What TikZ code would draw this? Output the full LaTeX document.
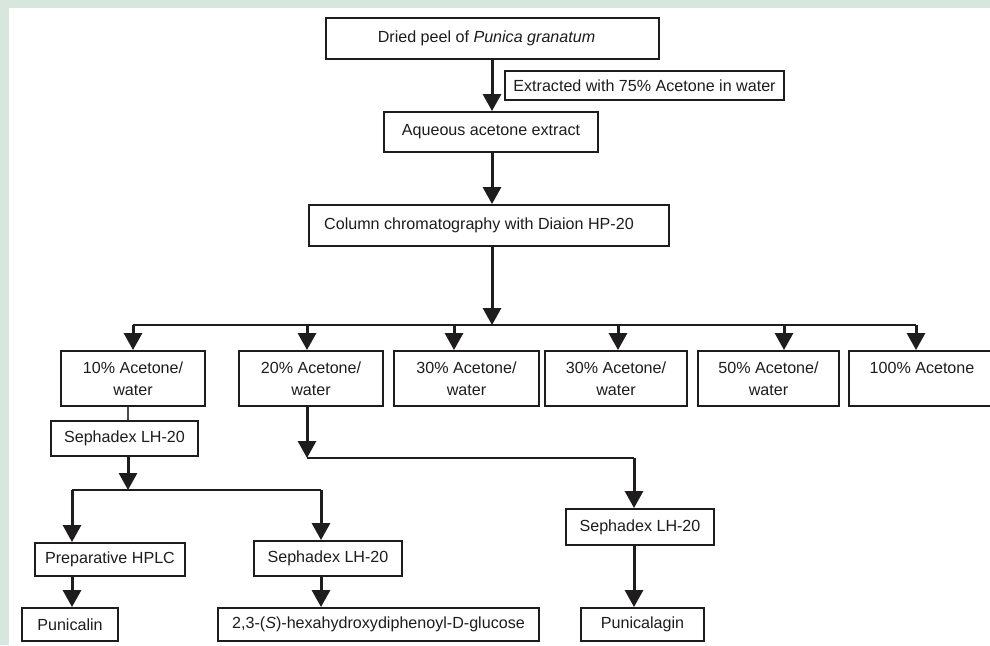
\documentclass[tikz,border=0pt]{standalone}
\usepackage{fontspec}
\setmainfont{Liberation Sans}
\usetikzlibrary{arrows.meta}
\definecolor{bgframe}{RGB}{216,231,222}
\definecolor{ink}{RGB}{30,28,29}
\tikzset{
  box/.style={draw=ink, line width=1.9pt, fill=white, inner sep=0pt, text=ink,
    font=\fontsize{16.1}{22}\selectfont, align=center},
  arr/.style={draw=ink, line width=3pt, -{Triangle[width=18pt,length=17pt]}},
  bus/.style={draw=ink, line width=2.2pt},
  thinl/.style={draw=ink!80, line width=1.3pt},
}
\newcommand{\bx}[5]{\node[box, minimum width=#3pt, minimum height=#4pt] (#1) at (#2) {#5};}
\begin{document}
\begin{tikzpicture}[x=1pt,y=-1pt]
\fill[bgframe] (0,0) rectangle (990,645);
\fill[white] (9,8) rectangle (990,645);
\useasboundingbox (0,0) rectangle (990,645);
\begin{scope}
\clip (9,8) rectangle (990,645);
% boxes
\bx{top}{492.5,38.5}{333}{41}{\hspace*{-12pt}Dried peel of \textit{Punica granatum}}
\bx{extr}{644.5,85.5}{279}{29}{Extracted with 75\% Acetone in water}
\bx{aq}{491,132}{214}{40}{Aqueous acetone extract}
\bx{col}{489,225.5}{360}{41}{\hspace*{-20pt}Column chromatography with Diaion HP-20}
\bx{b10}{133,378.5}{144}{55}{10\% Acetone/\\water}
\bx{b20}{311,378.5}{144}{55}{20\% Acetone/\\water}
\bx{b30}{466.5,378.5}{145}{55}{30\% Acetone/\\water}
\bx{b30b}{616,378.5}{142}{55}{30\% Acetone/\\water}
\bx{b50}{768.5,378.5}{141}{55}{50\% Acetone/\\water}
\bx{b100}{922,378.5}{146}{55}{100\% Acetone\\\mbox{}}
\bx{s1}{124.5,438.5}{147}{35}{Sephadex LH-20}
\bx{hplc}{110,559.5}{150}{33}{Preparative HPLC}
\bx{s2}{328,558.5}{148}{35}{Sephadex LH-20}
\bx{pcl}{70,624.5}{96}{33}{Punicalin}
\bx{glu}{378.5,624.5}{321}{33}{2,3-(\textit{S})-hexahydroxydiphenoyl-D-glucose}
\bx{s3}{640,527}{148}{36}{Sephadex LH-20}
\bx{pg}{642.5,624.5}{123}{33}{Punicalagin}
% coordinates
\coordinate (t1) at (492,59);
\coordinate (t2) at (492,152);
\coordinate (t3) at (492,246);
\coordinate (busc) at (492,325);
\coordinate (busL) at (133,325);
\coordinate (busR) at (916,325);
\coordinate (k20) at (307,325);
\coordinate (k30) at (454,325);
\coordinate (k30b) at (618,325);
\coordinate (k50) at (784,325);
\coordinate (s1c) at (128,490);
\coordinate (s1L) at (72,490);
\coordinate (s1R) at (321,490);
\coordinate (d20) at (307,458);
\coordinate (d20R) at (634,458);
% connectors
\draw[arr] (t1) -- (t1 |- aq.north);
\draw[arr] (t2) -- (t2 |- col.north);
\draw[arr] (t3) -- (busc);
\draw[bus] (busL) -- (busR);
\draw[arr] (busL) -- (busL |- b10.north);
\draw[arr] (k20) -- (k20 |- b20.north);
\draw[arr] (k30) -- (k30 |- b30.north);
\draw[arr] (k30b) -- (k30b |- b30b.north);
\draw[arr] (k50) -- (k50 |- b50.north);
\draw[arr] (busR) -- (busR |- b100.north);
\draw[thinl] (s1c |- b10.south) -- (s1c |- s1.north);
\draw[arr] (s1c |- s1.south) -- (s1c);
\draw[bus] (s1L) -- (s1R);
\draw[arr] (s1L) -- (s1L |- hplc.north);
\draw[arr] (s1R) -- (s1R |- s2.north);
\draw[arr] (s1L |- hplc.south) -- (s1L |- pcl.north);
\draw[arr] (s1R |- s2.south) -- (s1R |- glu.north);
\draw[arr] (d20 |- b20.south) -- (d20);
\draw[bus] (d20) -- (d20R);
\draw[arr] (d20R) -- (d20R |- s3.north);
\draw[arr] (d20R |- s3.south) -- (d20R |- pg.north);
\end{scope}
\end{tikzpicture}
\end{document}
